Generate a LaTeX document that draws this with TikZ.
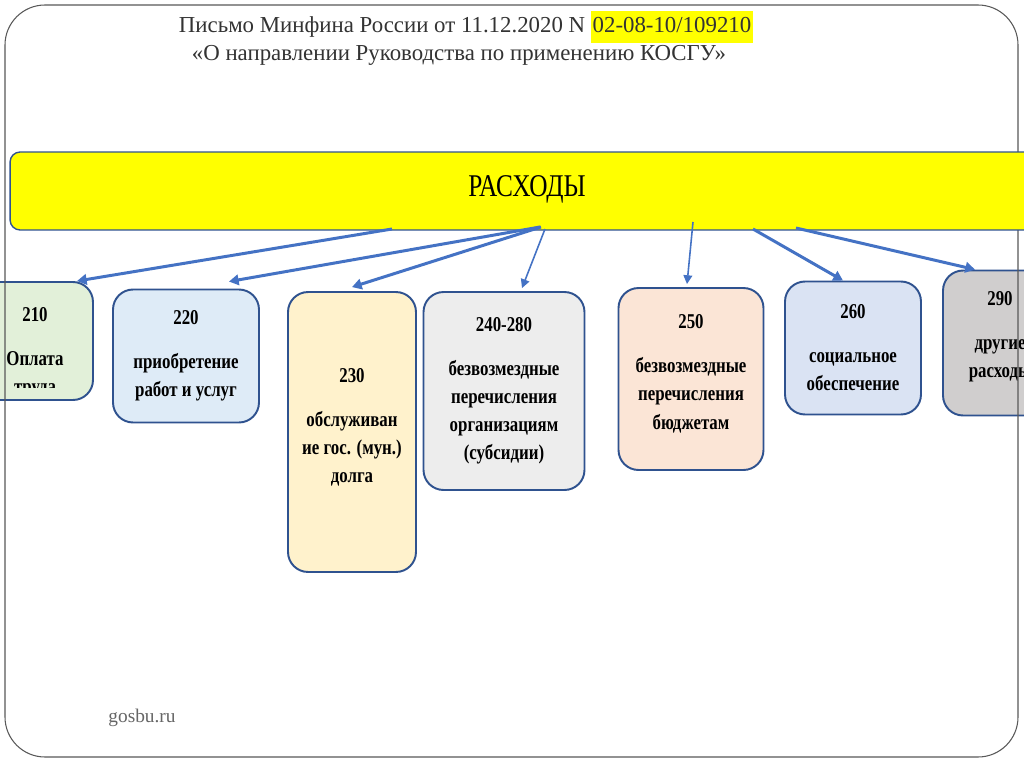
\documentclass[tikz,border=0pt]{standalone}
\usepackage{fontspec}
\setmainfont[FakeStretch=0.8]{Liberation Serif}
\newfontfamily\plainserif{Liberation Serif}
\usetikzlibrary{arrows.meta}

\definecolor{linkblue}{HTML}{4472C4}
\definecolor{boxline}{HTML}{2F528F}
\definecolor{fgreen}{HTML}{E2F0D9}
\definecolor{fblue}{HTML}{DEEBF7}
\definecolor{fyellow}{HTML}{FFF2CC}
\definecolor{fgray}{HTML}{EDEDED}
\definecolor{forange}{HTML}{FBE5D6}
\definecolor{fsteel}{HTML}{DAE3F3}
\definecolor{fdark}{HTML}{D0CECE}
\definecolor{hilite}{HTML}{FFFF00}

\tikzstyle{kosgu}=[draw=boxline, line width=1.1pt, rounded corners=0.4cm, align=center, inner sep=0pt, font=\bfseries\fontsize{12}{16}\selectfont]
\tikzstyle{label}=[align=center, inner sep=0pt, font=\bfseries\fontsize{12}{16}\selectfont]
\tikzstyle{link}=[draw=linkblue, line width=1.7pt, -{Triangle[length=5.5pt, width=6pt]}]
\tikzstyle{thin link}=[draw=linkblue, line width=0.9pt, -{Triangle[length=5pt, width=5pt]}]

\begin{document}
\begin{tikzpicture}[x=0.02cm, y=-0.02cm]
      \useasboundingbox (0, 0) rectangle (1024, 767);
      \clip (0, 0) rectangle (1024, 767);
      \fill[white] (0, 0) rectangle (1024, 767);

      \node[kosgu, fill=fgreen, minimum width=2.32cm, minimum height=2.36cm] (b210) at (35, 341) {};
      \begin{scope}
        \clip ([yshift=0.26cm]b210.south west) rectangle (b210.north east);
        \node[label] (l210) at (35, 353) {210\\[9pt]Оплата\\труда};
      \end{scope}
      \node[kosgu, fill=fblue, minimum width=2.92cm, minimum height=2.66cm] (b220) at (186, 356) {220\\[9pt]приобретение\\работ и услуг};
      \node[kosgu, fill=fyellow, minimum width=2.56cm, minimum height=5.6cm] (b230) at (352, 432) {230\\[9pt]обслуживан\\ие гос. (мун.)\\долга\\[-9pt]\mbox{}};
      \node[kosgu, fill=fgray, minimum width=3.22cm, minimum height=3.96cm] (b240) at (504, 391) {240-280\\[9pt]безвозмездные\\перечисления\\организациям\\(субсидии)};
      \node[kosgu, fill=forange, minimum width=2.9cm, minimum height=3.64cm] (b250) at (691, 379) {250\\[9pt]безвозмездные\\перечисления\\бюджетам\\[-8pt]\mbox{}};
      \node[kosgu, fill=fsteel, minimum width=2.72cm, minimum height=2.66cm] (b260) at (853, 348) {260\\[9pt]социальное\\обеспечение};
      \node[kosgu, fill=fdark, minimum width=2.28cm, minimum height=2.9cm] (b290) at (1000, 343) {290\\[9pt]другие\\расходы\\[-6pt]\mbox{}};

      \draw[black!65, line width=0.6pt, rounded corners=0.8cm] (5, 5) rectangle (1018, 757);

      \node[draw=boxline, line width=0.8pt, fill=hilite, rounded corners=0.2cm, minimum width=20.68cm, minimum height=1.56cm, font=\fontsize{18}{20}\selectfont] (bar) at (527, 191) {\raisebox{6pt}{РАСХОДЫ}};

      \coordinate (o1) at (392, 229);
      \coordinate (o2) at (540, 227);
      \coordinate (o3) at (541, 227);
      \coordinate (o4) at (545, 229);
      \coordinate (o5) at (693, 222);
      \coordinate (o6) at (753, 229);
      \coordinate (o7) at (796, 228);

      \draw[link] (o1) to ([xshift=0.84cm]b210.north);
      \draw[link] (o2) to ([xshift=0.86cm, yshift=0.14cm]b220.north);
      \draw[link] (o3) to ([yshift=0.08cm]b230.north);
      \draw[thin link] (o4) to ([xshift=0.36cm, yshift=0.06cm]b240.north);
      \draw[thin link] (o5) to ([xshift=-0.08cm, yshift=0.06cm]b250.north);
      \draw[link] (o6) to ([xshift=-0.2cm]b260.north);
      \draw[link] (o7) to ([xshift=-0.5cm]b290.north);

      \node[font=\plainserif\fontsize{13}{16}\selectfont, text=black!80] (title) at (466, 27)
        {Письмо Минфина России от 11.12.2020 N {\fboxsep=1pt\colorbox{hilite}{\strut 02-08-10/109210}}};
      \node[font=\plainserif\fontsize{13}{16}\selectfont, text=black!80] (subtitle) at (459, 55)
        {«О направлении Руководства по применению КОСГУ»};

      \node[font=\plainserif\fontsize{11}{13}\selectfont, text=black!60] (site) at (142, 718) {gosbu.ru};
    \end{tikzpicture}
\end{document}
